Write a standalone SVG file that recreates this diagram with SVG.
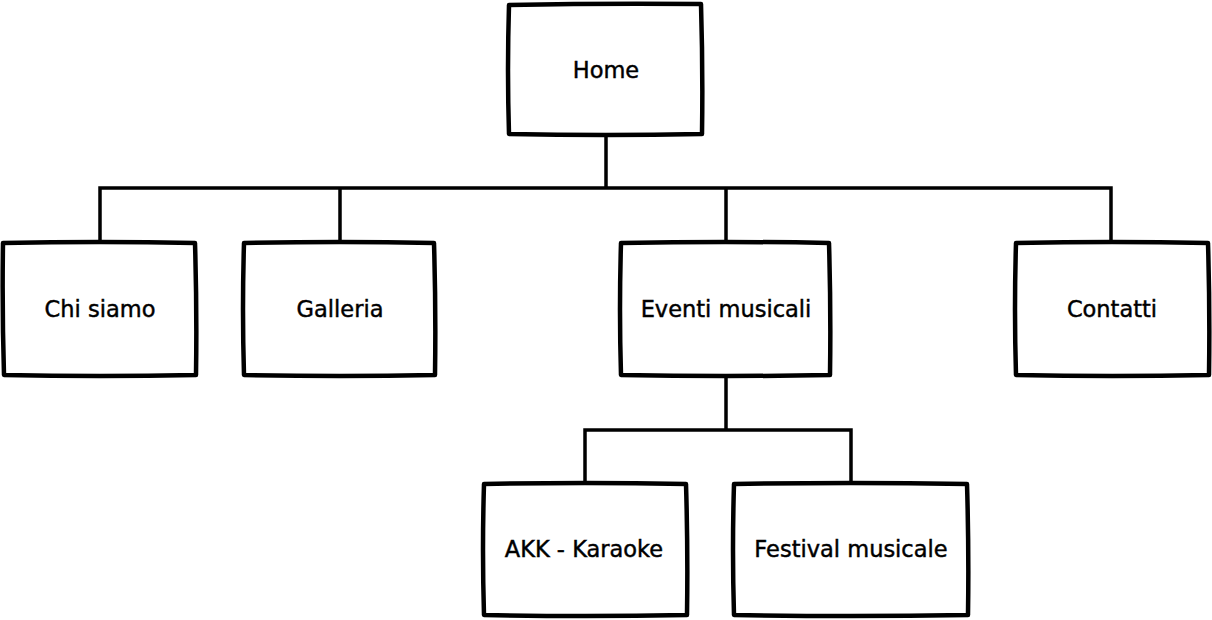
<svg xmlns="http://www.w3.org/2000/svg" width="1212" height="620" viewBox="0 0 1212 620">
<style>
.box{fill:#fff;stroke:#000;stroke-width:4.5;stroke-linejoin:round;stroke-linecap:round}
.lbl{font-family:"DejaVu Sans",sans-serif;font-size:22.5px;fill:#000;stroke:#000;stroke-width:0.45;text-anchor:middle;dominant-baseline:central}
.con{fill:none;stroke:#000;stroke-width:3.5;stroke-linecap:square}
</style>
<rect width="1212" height="620" fill="#fff"/>
<g id="connectors">
<path class="con" d="M606 137V188M100 188H1111M100 188V241M340 188V241M726 188V241M1111 188V241"/>
<path class="con" d="M726 377V430M585 430H851M585 430V481M851 430V481"/>
</g>
<g id="home">
<path class="box" d="M509 5Q606 3 701 4Q703 70 702 134Q606 136 509 134Q507 70 509 5Z"/>
<text class="lbl" x="606" y="70">Home</text>
</g>
<g id="chi-siamo">
<path class="box" d="M3 243Q100 241 195 243Q197 310 196 375Q100 377 4 375Q2 310 3 243Z"/>
<text class="lbl" x="100" y="309">Chi siamo</text>
</g>
<g id="galleria">
<path class="box" d="M244 243Q340 241 434 243Q436 310 435 375Q340 377 244 375Q242 310 244 243Z"/>
<text class="lbl" x="340" y="309">Galleria</text>
</g>
<g id="eventi-musicali">
<path class="box" d="M621 243Q726 241 829 243Q831 310 830 375Q726 377 621 375Q619 310 621 243Z"/>
<text class="lbl" x="726" y="309">Eventi musicali</text>
</g>
<g id="contatti">
<path class="box" d="M1016 243Q1112 241 1208 243Q1210 310 1209 375Q1112 377 1016 375Q1014 310 1016 243Z"/>
<text class="lbl" x="1112" y="309">Contatti</text>
</g>
<g id="akk-karaoke">
<path class="box" d="M484 484Q585 482 686 484Q688 550 687 615Q585 617 484 615Q482 550 484 484Z"/>
<text class="lbl" x="584" y="549">AKK - Karaoke</text>
</g>
<g id="festival-musicale">
<path class="box" d="M734 484Q851 482 967 484Q969 550 968 615Q851 617 734 615Q732 550 734 484Z"/>
<text class="lbl" x="851" y="549">Festival musicale</text>
</g>
</svg>
